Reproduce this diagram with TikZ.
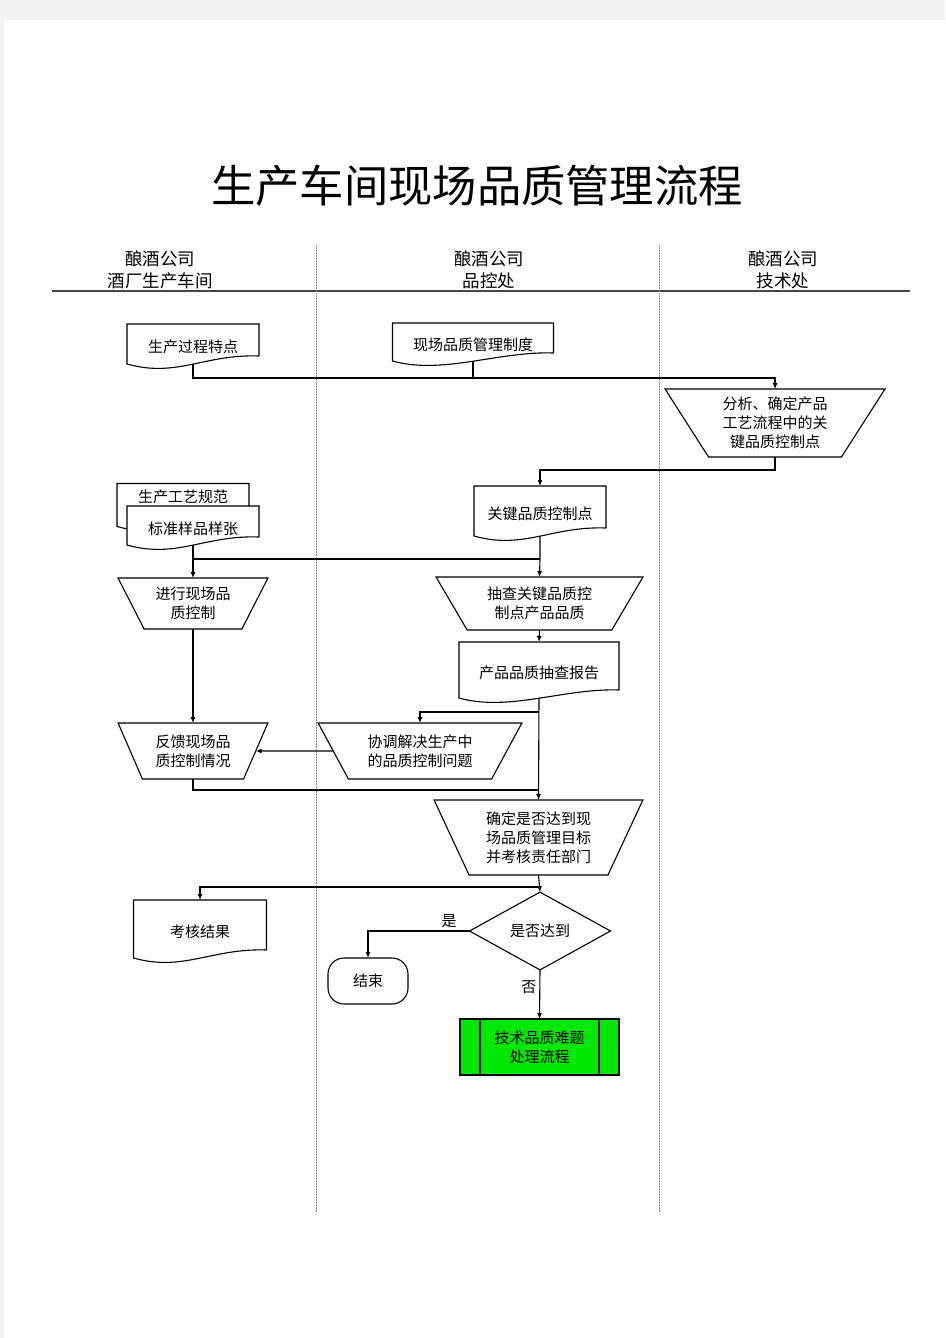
\documentclass[tikz,border=0pt]{standalone}
\usepackage{fontspec}
\usepackage{tikz}
\usetikzlibrary{shapes.geometric,arrows.meta,backgrounds}
\newfontfamily\cjk{Noto Sans CJK SC}
\definecolor{pagegray}{RGB}{244,244,244}
\definecolor{procgreen}{RGB}{0,232,0}
\definecolor{rulegray}{RGB}{70,70,70}

\tikzset{
  txt/.style={font=\cjk\fontsize{15}{19}\selectfont, align=center},
  docbox/.style={txt, rectangle, inner sep=2pt, outer sep=0pt, text height=17pt, text depth=0pt},
  manual/.style={txt, trapezium, draw, shape border rotate=180,
    trapezium stretches=true, inner sep=1pt, outer sep=0pt},
  decision/.style={txt, diamond, draw, inner sep=1pt, outer sep=0pt},
  terminal/.style={txt, rectangle, draw, rounded corners=16pt, outer sep=0pt},
  subproc/.style={txt, rectangle, draw, fill=procgreen, outer sep=0pt},
  lane/.style={font=\cjk\fontsize{17.5}{22}\selectfont, align=center},
  lanesep/.style={densely dotted, line width=0.6pt, gray},
  arr/.style={-{Latex[length=6pt,width=5pt]}},
  lbl/.style={font=\cjk\fontsize{15}{19}\selectfont, inner sep=3pt}
}

% wavy document outline round a named node
\newcommand\docframe[1]{%
  \draw[line width=1.1pt, fill=white] ([yshift=8pt]#1.south east) -- (#1.north east)
    -- (#1.north west) -- (#1.south west)
    .. controls +(50,14) and +(-55,-2) .. ([yshift=8pt]#1.south east);}

\begin{document}
\begin{tikzpicture}[x=1pt,y=-1pt,line width=1.1pt]
\useasboundingbox (0,0) rectangle (945,1338);
\begin{scope}[on background layer]
\fill[pagegray] (0,0) rectangle (945,1338);
\fill[white] (4,20) rectangle (945,1338);
\end{scope}

% title and lanes
\node[font=\cjk\fontsize{44.3}{48}\selectfont] (title) at (477,186) {生产车间现场品质管理流程};
\node[lane] (hdA) at (160,270) {酿酒公司\\酒厂生产车间};
\node[lane] (hdB) at (489,270) {酿酒公司\\品控处};
\node[lane] (hdC) at (783,270) {酿酒公司\\技术处};
\draw[line width=2pt, rulegray] (52,291) -- (910,291);
\draw[lanesep] (316,245) -- (316,1212);
\draw[lanesep] (659,245) -- (659,1212);

% bus rows
\coordinate (r1) at (0,378);
\coordinate (r2) at (0,470);
\coordinate (r3) at (0,559);
\coordinate (r4) at (0,712);
\coordinate (r5) at (0,790);
\coordinate (r6) at (0,887);

% shapes
\node[docbox, minimum width=132, minimum height=40] (feat) at (193,344) {生产过程特点};
\node[docbox, minimum width=161, minimum height=38] (rule) at (473,342) {现场品质管理制度};
\node[manual, minimum width=220, minimum height=68, trapezium angle=57] (analyse) at (775,423)
  {分析、确定产品\\工艺流程中的关\\键品质控制点};
\node[docbox, minimum width=132, minimum height=50] (keypt) at (540,511) {关键品质控制点};
\node[docbox, minimum width=132, minimum height=38, text depth=22pt] (norm) at (183,505) {生产工艺规范};
\node[docbox, minimum width=132, minimum height=39] (sample) at (193,525.5) {标准样品样张};
\node[manual, minimum width=150, minimum height=51, trapezium angle=59.5] (onsite) at (193,603.5)
  {进行现场品\\质控制};
\node[manual, minimum width=207, minimum height=53, trapezium angle=56.6] (spot) at (539.5,603.5)
  {抽查关键品质控\\制点产品品质};
\node[docbox, minimum width=160, minimum height=56] (report) at (539,670) {产品品质抽查报告};
\node[manual, minimum width=150, minimum height=56, trapezium angle=62] (feedback) at (193,751)
  {反馈现场品\\质控制情况};
\node[manual, minimum width=204, minimum height=56, trapezium angle=57] (coord) at (420,751)
  {协调解决生产中\\的品质控制问题};
\node[manual, minimum width=209, minimum height=75, trapezium angle=63.5] (assess) at (538.5,837.5)
  {确定是否达到现\\场品质管理目标\\并考核责任部门};
\node[docbox, minimum width=133, minimum height=58] (result) at (200,929) {考核结果};
\node[decision, minimum width=141, minimum height=56] (reach) at (540,931) {是否达到};
\node[terminal, minimum width=80, minimum height=46] (finish) at (368,981) {结束};
\node[subproc, minimum width=159, minimum height=56] (techproc) at (539.5,1047)
  {技术品质难题\\处理流程};
\draw ([xshift=20pt]techproc.north west) -- ([xshift=20pt]techproc.south west);
\draw ([xshift=-20pt]techproc.north east) -- ([xshift=-20pt]techproc.south east);

\begin{scope}[on background layer]
\docframe{feat}
\docframe{rule}
\docframe{keypt}
\docframe{norm}
\docframe{sample}
\docframe{report}
\docframe{result}
\end{scope}

% connectors
\draw[arr] (feat.south) -- (feat.south |- r1) -| (analyse.90);
\draw (rule.south) -- (rule.south |- r1);
\draw[arr] (analyse.270) -- (analyse.270 |- r2) -| (keypt.north);
\draw[arr] (keypt.south) -- (keypt.south |- r3) -- (spot.90);
\draw[arr] (sample.south) -- (sample.south |- r3) -- (onsite.90);
\draw (sample.south |- r3) -- (keypt.south |- r3);
\draw[arr] (spot.270) -- (report.north);
\draw[arr] (report.south) -- (assess.90);
\draw[arr] (report.south |- r4) -| (coord.90);
\draw[arr] (onsite.270) -- (feedback.90);
\draw[arr] (coord.180) -- (feedback.0);
\draw (feedback.270) -- (feedback.270 |- r5) -- (report.south |- r5);
\draw[arr] (assess.270) -- (reach.north);
\draw[arr] (assess.270 |- r6) -| (result.north);
\draw[arr] (reach.west) -| (finish.north) node[lbl, pos=0.1, above] {是};
\draw[arr] (reach.south) -- (techproc.north) node[lbl, pos=0.35, left] {否};
\end{tikzpicture}
\end{document}
